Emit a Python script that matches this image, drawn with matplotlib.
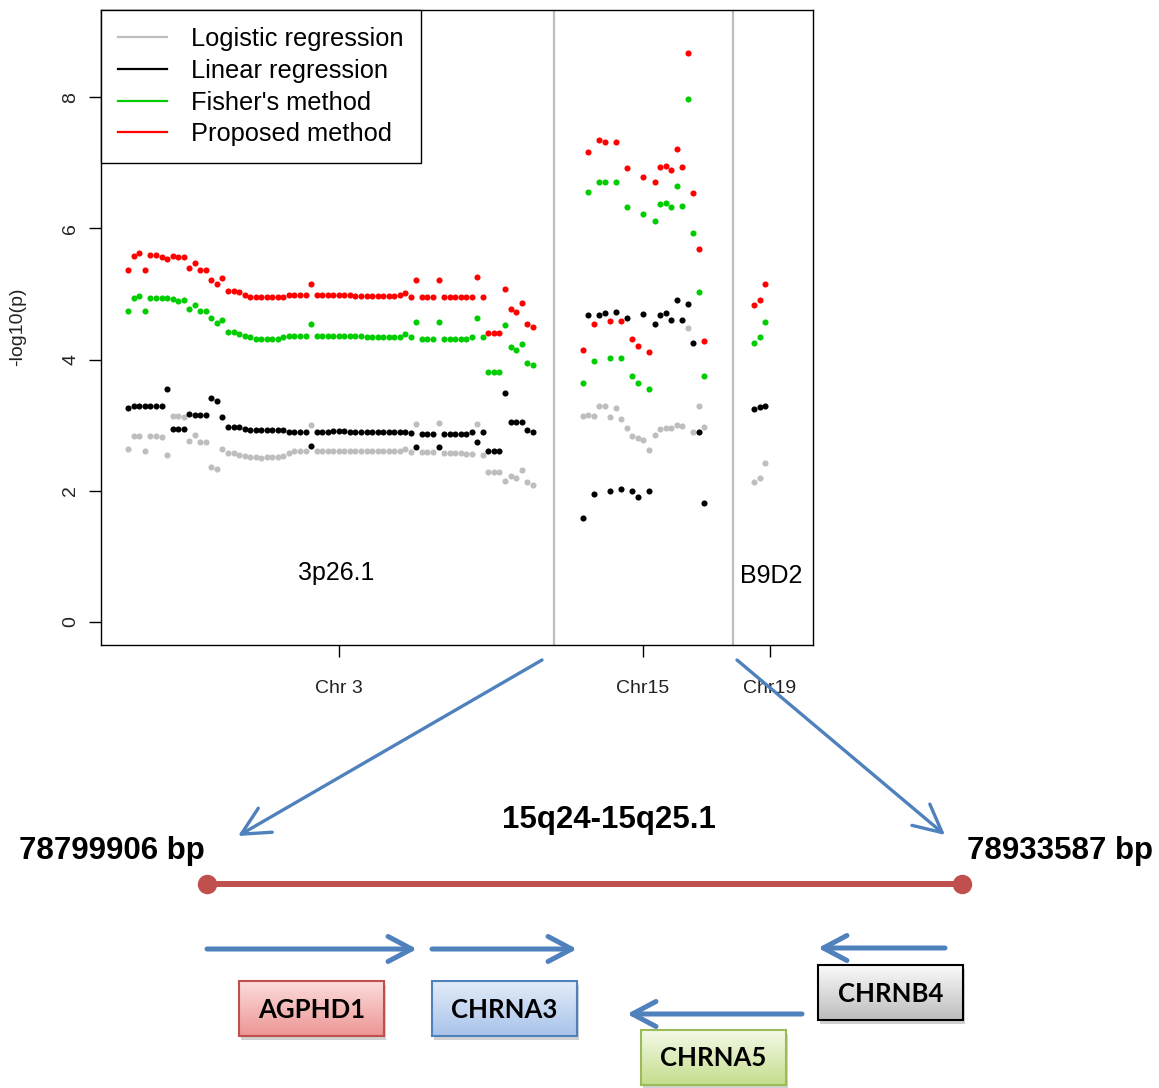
import numpy as np
import matplotlib
matplotlib.use("Agg")
import matplotlib.pyplot as plt
from matplotlib.lines import Line2D
from matplotlib.patches import Rectangle, FancyArrowPatch
from matplotlib.colors import LinearSegmentedColormap

plt.rcParams['font.family'] = ['Liberation Sans', 'DejaVu Sans']

# SNP order along x, with gaps between the chromosomes
chr3_x = np.arange(0, 74)
chr15_x = np.arange(82, 105)
chr19_x = np.arange(113, 116)

# -log10(p), chr 3 (3p26.1)
logistic_chr3 = [2.63, 2.84, 2.84, 2.61, 2.84, 2.83, 2.82, 2.55, 3.14, 3.14, 3.13, 2.76, 2.85, 2.75,
                 2.75, 2.37, 2.33, 2.63, 2.57, 2.57, 2.55, 2.53, 2.52, 2.51, 2.50, 2.51, 2.52, 2.52,
                 2.53, 2.58, 2.60, 2.60, 2.60, 3.01, 2.60, 2.60, 2.60, 2.60, 2.60, 2.60, 2.60, 2.60,
                 2.60, 2.60, 2.60, 2.60, 2.60, 2.60, 2.60, 2.60, 2.63, 2.59, 3.02, 2.59, 2.59, 2.59,
                 3.03, 2.58, 2.58, 2.57, 2.57, 2.56, 2.56, 3.02, 2.55, 2.29, 2.29, 2.29, 2.15, 2.23,
                 2.19, 2.32, 2.14, 2.09]
linear_chr3 = [3.26, 3.29, 3.29, 3.29, 3.29, 3.29, 3.29, 3.55, 2.94, 2.94, 2.94, 3.17, 3.15, 3.15,
               3.15, 3.41, 3.37, 3.12, 2.98, 2.98, 2.97, 2.94, 2.92, 2.92, 2.92, 2.92, 2.92, 2.92,
               2.92, 2.90, 2.90, 2.90, 2.90, 2.68, 2.90, 2.90, 2.90, 2.91, 2.91, 2.91, 2.90, 2.90,
               2.90, 2.90, 2.90, 2.90, 2.90, 2.90, 2.90, 2.90, 2.90, 2.88, 2.67, 2.87, 2.87, 2.87,
               2.67, 2.87, 2.87, 2.87, 2.87, 2.87, 2.89, 2.75, 2.90, 2.61, 2.61, 2.61, 3.49, 3.05,
               3.05, 3.05, 2.93, 2.90]
fisher_chr3 = [4.74, 4.94, 4.97, 4.74, 4.94, 4.94, 4.94, 4.94, 4.92, 4.90, 4.91, 4.77, 4.83, 4.74,
               4.74, 4.63, 4.56, 4.61, 4.42, 4.42, 4.39, 4.36, 4.34, 4.32, 4.32, 4.32, 4.32, 4.32,
               4.34, 4.36, 4.36, 4.36, 4.36, 4.54, 4.36, 4.36, 4.36, 4.36, 4.36, 4.36, 4.36, 4.36,
               4.36, 4.34, 4.34, 4.34, 4.34, 4.34, 4.34, 4.35, 4.39, 4.34, 4.58, 4.32, 4.32, 4.32,
               4.58, 4.32, 4.32, 4.32, 4.32, 4.32, 4.34, 4.64, 4.34, 3.81, 3.81, 3.81, 4.52, 4.19,
               4.15, 4.24, 3.95, 3.92]
proposed_chr3 = [5.36, 5.58, 5.62, 5.36, 5.59, 5.59, 5.57, 5.54, 5.58, 5.56, 5.56, 5.40, 5.48, 5.36,
                 5.36, 5.22, 5.15, 5.24, 5.05, 5.05, 5.03, 4.98, 4.96, 4.95, 4.95, 4.95, 4.95, 4.95,
                 4.95, 4.98, 4.99, 4.99, 4.99, 5.16, 4.99, 4.99, 4.99, 4.99, 4.99, 4.98, 4.98, 4.97,
                 4.97, 4.97, 4.97, 4.97, 4.97, 4.97, 4.97, 4.98, 5.01, 4.95, 5.21, 4.95, 4.95, 4.95,
                 5.21, 4.95, 4.95, 4.95, 4.95, 4.95, 4.95, 5.26, 4.96, 4.41, 4.41, 4.41, 5.07, 4.77,
                 4.72, 4.86, 4.54, 4.50]

# chr 15
logistic_chr15 = [3.14, 3.16, 3.14, 3.29, 3.29, 3.12, 3.26, 3.09, 2.96, 2.83, 2.80, 2.78, 2.62,
                  2.85, 2.94, 2.95, 2.95, 3.00, 2.99, 4.48, 2.90, 3.29, 2.98]
linear_chr15 = [1.59, 4.68, 1.95, 4.68, 4.71, 2.00, 4.72, 2.03, 4.64, 1.99, 1.90, 4.70, 1.99,
                4.54, 4.68, 4.71, 4.61, 4.91, 4.61, 4.85, 4.26, 2.90, 1.82]
fisher_chr15 = [3.65, 6.56, 3.98, 6.71, 6.71, 4.03, 6.71, 4.03, 6.32, 3.75, 3.65, 6.22, 3.55,
                6.12, 6.37, 6.39, 6.32, 6.64, 6.34, 7.97, 5.93, 5.03, 3.75]
proposed_chr15 = [4.15, 7.17, 4.54, 7.35, 7.32, 4.59, 7.32, 4.59, 6.92, 4.32, 4.21, 6.78, 4.12,
                  6.71, 6.93, 6.95, 6.89, 7.21, 6.93, 8.68, 6.54, 5.68, 4.28]

# chr 19 (B9D2)
logistic_chr19 = [2.14, 2.20, 2.42]
linear_chr19 = [3.24, 3.27, 3.30]
fisher_chr19 = [4.26, 4.34, 4.58]
proposed_chr19 = [4.83, 4.91, 5.16]

method_names = ["Logistic regression", "Linear regression", "Fisher's method", "Proposed method"]
method_colors = ["#BEBEBE", "black", "#00CD00", "red"]

chrom_labels = ["Chr 3", "Chr15", "Chr19"]
chrom_ticks = [38.0, 92.9, 115.8]
chrom_breaks = [76.8, 109.1]

# zoomed-in region diagram
region_name = "15q24-15q25.1"
region_start = "78799906 bp"
region_end = "78933587 bp"
gene_names = ["AGPHD1", "CHRNA3", "CHRNB4", "CHRNA5"]
gene_top = ["#FBDCDB", "#E3ECF8", "#FAFAFA", "#F4F9E8"]
gene_bottom = ["#EC9694", "#A8C3EA", "#BDBDBD", "#C4DD8C"]
gene_edge = ["#C0504D", "#4F81BD", "#000000", "#9BBB59"]

fig = plt.figure(figsize=(11.59, 10.88), dpi=100)
ax = fig.add_axes([101 / 1159, 443 / 1088, 712 / 1159, 635 / 1088])

series = [
    (logistic_chr3, logistic_chr15, logistic_chr19),
    (linear_chr3, linear_chr15, linear_chr19),
    (fisher_chr3, fisher_chr15, fisher_chr19),
    (proposed_chr3, proposed_chr15, proposed_chr19),
]
for (y3, y15, y19), col in zip(series, method_colors):
    for xs, ys in [(chr3_x, y3), (chr15_x, y15), (chr19_x, y19)]:
        ax.plot(xs, ys, 'o', color=col, ms=4.4, mew=0, ls='none')

for b in chrom_breaks:
    ax.axvline(b, color='#BEBEBE', lw=1.6, zorder=0)

ax.text(37.5, 0.75, "3p26.1", fontsize=18, ha='center', va='center')
ax.text(116.0, 0.70, "B9D2", fontsize=18, ha='center', va='center')

ax.set_xlim(-4.93, 123.6)
ax.set_ylim(-0.351, 9.33)
ax.set_xticks(chrom_ticks)
ax.set_xticklabels(chrom_labels)
ax.set_yticks([0, 2, 4, 6, 8])
ax.tick_params(axis='both', length=8.6, width=1, labelsize=14, labelcolor='#222222')
ax.tick_params(axis='x', pad=16.5)
ax.tick_params(axis='y', pad=7, labelrotation=90)
for lab in ax.get_yticklabels():
    lab.set_verticalalignment('center')
for sp in ax.spines.values():
    sp.set_linewidth(1.0)
fig.text(18 / 1159, 1 - 327 / 1088, "-log10(p)", rotation=90, fontsize=14,
         ha='center', va='center', color='#222222')

handles = [Line2D([], [], color=c, lw=1.6) for c in method_colors]
leg = ax.legend(handles, method_names, loc='upper left', bbox_to_anchor=(0, 1),
                borderaxespad=0, fancybox=False, edgecolor='black', framealpha=1,
                fontsize=18.3, handlelength=1.9, handletextpad=0.95, labelspacing=0.3,
                borderpad=0.68)
leg.get_frame().set_linewidth(1.0)

# overlay in pixel coordinates for the diagram below the plot
ov = fig.add_axes([0, 0, 1, 1])
ov.patch.set_alpha(0)
ov.axis('off')
blue = "#4F81BD"


def arrow(p0, p1, lw, hl=0.85, hw=0.45):
    ov.add_patch(FancyArrowPatch(p0, p1, arrowstyle=f'->,head_length={hl},head_width={hw}',
                                 mutation_scale=20, color=blue, lw=lw, shrinkA=0, shrinkB=0,
                                 capstyle='round', joinstyle='round', zorder=5))


arrow((542, 660), (238, 836), 2.4, 1.0, 0.5)
arrow((737, 660), (945, 835), 2.4, 1.0, 0.5)

ov.text(609, 820, region_name, fontsize=22.5, fontweight='bold', ha='center', va='center')
ov.text(112, 851, region_start, fontsize=22.5, fontweight='bold', ha='center', va='center')
ov.text(1060, 851, region_end, fontsize=22.5, fontweight='bold', ha='center', va='center')

ov.plot([207, 962], [884, 884], color='#C0504D', lw=4.3, solid_capstyle='butt')
ov.plot([207, 962], [884, 884], 'o', color='#C0504D', ms=13, ls='none')

# gene direction arrows
arrow((207, 949), (417, 949), 3.6)
arrow((432, 949), (577, 949), 3.6)
arrow((945, 948), (818, 948), 3.6)
arrow((802, 1014), (627, 1014), 3.6)

gene_boxes = [(239, 981), (432, 981), (818, 965), (641, 1030)]
bw, bh = 145, 55
for name, (x0, y0), top, bot, edge in zip(gene_names, gene_boxes, gene_top, gene_bottom, gene_edge):
    ov.add_patch(Rectangle((x0 + 2, y0 + 4), bw, bh, fc='black', alpha=0.18, ec='none', zorder=1))
    cmap = LinearSegmentedColormap.from_list(name, [top, bot])
    ov.imshow(np.linspace(0, 1, 64).reshape(-1, 1), cmap=cmap, extent=(x0, x0 + bw, y0 + bh, y0),
              aspect='auto', origin='upper', zorder=2)
    ov.add_patch(Rectangle((x0, y0), bw, bh, fill=False, ec=edge, lw=1.5, zorder=3))
    ov.text(x0 + bw / 2, y0 + bh / 2 + 1, name, fontsize=18.5, fontweight='bold',
            family=['Lato', 'DejaVu Sans'], ha='center', va='center', zorder=4)

ov.set_xlim(0, 1159)
ov.set_ylim(1088, 0)

fig.savefig("out.png", dpi=100)
